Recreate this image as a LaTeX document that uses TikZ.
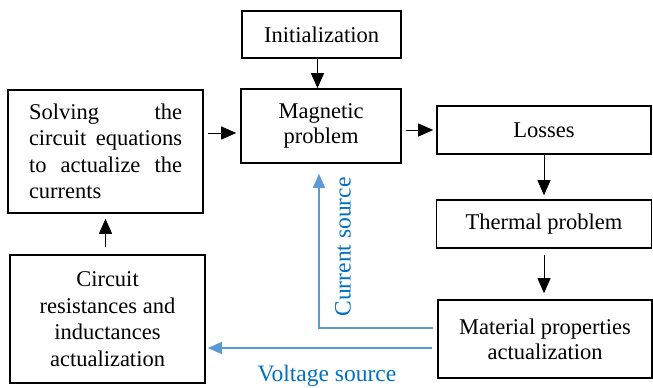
\documentclass[tikz,border=0pt]{standalone}
\usepackage{fontspec}
\setmainfont{Liberation Serif}
\usetikzlibrary{arrows.meta}
\definecolor{arrblue}{RGB}{91,155,213}
\definecolor{txtblue}{RGB}{0,112,192}
\hyphenpenalty=10000
\exhyphenpenalty=10000
\begin{document}
\begin{tikzpicture}[x=1pt,y=-1pt,
  box/.style={draw=black,line width=1.6pt,inner sep=0pt,font=\fontsize{22.5}{25}\selectfont},
  tall/.style={font=\fontsize{22.5}{26.5}\selectfont},
  blk/.style={line width=0.9pt,-{Triangle[length=15pt,width=13pt]}},
  bluearr/.style={draw=arrblue,line width=1.3pt,-{Triangle[length=14pt,width=12pt]}},
  bluetxt/.style={text=txtblue,font=\fontsize{23.5}{26}\selectfont,inner sep=0pt}]
\useasboundingbox (0,0) rectangle (653,388);
\node[box,minimum width=159pt,minimum height=47pt] (init) at (321.5,34.5) {Initialization};
\node[box,minimum width=160pt,minimum height=74pt,align=center] (magn) at (321,126) {Magnetic\\problem};
\node[box,tall,minimum width=195pt,minimum height=123pt,text width=153pt,align=justify] (solv) at (105.5,151.5)
  {Solving the circuit equations to actualize the currents};
\node[box,tall,minimum width=195pt,minimum height=128pt,align=center] (circ) at (107.5,319)
  {Circuit\\resistances and\\inductances\\actualization};
\node[box,minimum width=214pt,minimum height=48pt] (loss) at (544,130) {Losses};
\node[box,minimum width=215pt,minimum height=48pt] (therm) at (544,224) {Thermal problem};
\node[box,minimum width=214pt,minimum height=78pt,align=center] (mat) at (545,339) {Material properties\\actualization};
\coordinate (im) at ([xshift=-4pt]init.south);
\coordinate (sm) at ([yshift=-7pt]magn.west);
\draw[blk] (im) -- (im |- magn.north);
\draw[blk,shorten <=4pt,shorten >=4pt] (solv.east |- sm) -- (sm);
\draw[blk,shorten <=4pt,shorten >=3pt] (magn.east |- loss.west) -- (loss.west);
\draw[blk,shorten >=4pt] (loss.south) -- (therm.north);
\draw[blk,shorten <=6pt,shorten >=6pt] (therm.south) -- (therm.south |- mat.north);
\draw[blk,shorten <=7pt,shorten >=5pt] (solv.south |- circ.north) -- (solv.south);
\draw[bluearr,shorten <=4pt] ([yshift=11pt]mat.west) -| ([xshift=-2pt,yshift=-10pt]magn.south);
\coordinate (vs) at ([yshift=-9pt]mat.west);
\draw[bluearr,shorten <=5pt,shorten >=2pt] (vs) -- (circ.east |- vs);
\node[bluetxt,rotate=90] (cs) at (343,247) {Current source};
\node[bluetxt] (vsl) at (327,376) {Voltage source};
\end{tikzpicture}
\end{document}
